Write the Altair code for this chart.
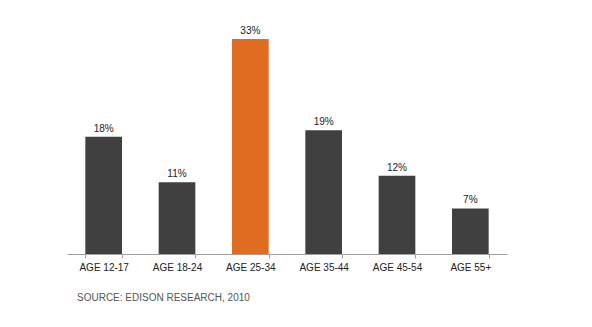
import altair as alt
import pandas as pd

categories = ["AGE 12-17", "AGE 18-24", "AGE 25-34", "AGE 35-44", "AGE 45-54", "AGE 55+"]
values = [18, 11, 33, 19, 12, 7]
labels = ["18%", "11%", "33%", "19%", "12%", "7%"]
highlight = [False, False, True, False, False, False]

df = pd.DataFrame({"cat": categories, "val": values, "label": labels, "hl": highlight})

x = alt.X("cat:N", sort=categories, title=None,
          scale=alt.Scale(paddingInner=0.5, paddingOuter=0.25),
          axis=alt.Axis(labelAngle=0, tickBand="extent", domainColor="#a0a0a0",
                        tickColor="#a0a0a0", tickSize=4, labelPadding=4,
                        labelFont="Liberation Sans", labelFontSize=10, labelColor="#222222"))
y = alt.Y("val:Q", axis=None, scale=alt.Scale(domain=[0, 35], nice=False))

bars = alt.Chart(df).mark_bar().encode(
    x=x, y=y,
    color=alt.Color("hl:N", scale=alt.Scale(domain=[False, True], range=["#404040", "#E06C22"]), legend=None),
)
text = alt.Chart(df).mark_text(baseline="bottom", dy=-3, font="Liberation Sans", fontSize=10, fill="#222222").encode(
    x=alt.X("cat:N", sort=categories), y=y, text="label:N"
)

chart = alt.layer(bars, text).properties(
    width=440, height=228,
    padding={"left": 67, "top": 26, "right": 85, "bottom": 73},
    autosize=alt.AutoSizeParams(type="none"),
    title=alt.TitleParams("SOURCE: EDISON RESEARCH,  2010", orient="bottom", anchor="start",
                          dx=10, offset=21, font="Liberation Sans", fontSize=10,
                          fontWeight="normal", color="#555555"),
).configure(background="white").configure_view(stroke=None)

chart.save("out.html", embed_options={"renderer": "svg", "actions": False})
